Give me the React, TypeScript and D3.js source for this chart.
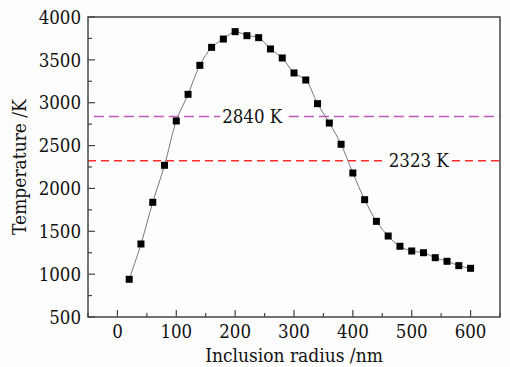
import { useEffect, useRef } from 'react'
import * as d3 from 'd3'

const radius = [20, 40, 60, 80, 100, 120, 140, 160, 180, 200, 220, 240, 260, 280, 300,
  320, 340, 360, 380, 400, 420, 440, 460, 480, 500, 520, 540, 560, 580, 600]
const temperature = [940, 1352, 1838, 2270, 2787, 3098, 3436, 3646, 3743, 3829, 3782, 3759, 3627, 3522, 3347,
  3265, 2989, 2763, 2515, 2180, 1869, 1616, 1445, 1325, 1270, 1250, 1192, 1150, 1099, 1068]
const xTicks = [0, 100, 200, 300, 400, 500, 600]
const yTicks = [500, 1000, 1500, 2000, 2500, 3000, 3500, 4000]
const refLines = [
  { value: 2840, label: '2840 K', color: '#bf58bb', dash: '10,5', labelX: 229, x0: -40 },
  { value: 2323, label: '2323 K', color: '#ff2a2a', dash: '8,5', labelX: 512, x0: -50 },
]

const FONT = 'DejaVu Serif'

export default function App() {
  const ref = useRef<SVGSVGElement>(null)

  useEffect(() => {
    const svg = d3.select(ref.current!)
    svg.selectAll('*').remove()
    const W = 510, H = 367
    const m = { l: 88, t: 17, r: 10, b: 50 }
    const iW = W - m.l - m.r, iH = H - m.t - m.b
    const x = d3.scaleLinear().domain([-50, 650]).range([0, iW])
    const y = d3.scaleLinear().domain([500, 4000]).range([iH, 0])
    const g = svg.append('g').attr('transform', `translate(${m.l},${m.t})`)
      .attr('font-family', FONT).attr('font-stretch', 'condensed')

    // minor ticks (inside)
    const xMinor = d3.range(-50, 651, 50).filter(v => v % 100 !== 0)
    const yMinor = d3.range(750, 4000, 500)
    g.selectAll('.xmin').data(xMinor).join('line')
      .attr('x1', d => x(d)).attr('x2', d => x(d)).attr('y1', iH).attr('y2', iH - 4)
      .attr('stroke', '#444').attr('stroke-width', 1.2)
    g.selectAll('.xmaj').data(xTicks).join('line')
      .attr('x1', d => x(d)).attr('x2', d => x(d)).attr('y1', iH).attr('y2', iH - 7)
      .attr('stroke', '#444').attr('stroke-width', 1.2)
    g.selectAll('.ymin').data(yMinor).join('line')
      .attr('x1', 0).attr('x2', 4).attr('y1', d => y(d)).attr('y2', d => y(d))
      .attr('stroke', '#444').attr('stroke-width', 1.2)
    g.selectAll('.ymaj').data(yTicks).join('line')
      .attr('x1', 0).attr('x2', 7).attr('y1', d => y(d)).attr('y2', d => y(d))
      .attr('stroke', '#444').attr('stroke-width', 1.2)

    // tick labels
    g.selectAll('.xl').data(xTicks).join('text')
      .attr('x', d => x(d)).attr('y', iH + 21).attr('text-anchor', 'middle')
      .attr('font-size', 18.5).attr('fill', '#111').text(d => d)
    g.selectAll('.yl').data(yTicks).join('text')
      .attr('x', -7).attr('y', d => y(d)).attr('dy', '0.36em').attr('text-anchor', 'end')
      .attr('font-size', 18.5).attr('fill', '#111').text(d => d)

    // reference lines
    refLines.forEach(r => {
      g.append('line').attr('x1', x(r.x0)).attr('x2', iW).attr('y1', y(r.value)).attr('y2', y(r.value))
        .attr('stroke', r.color).attr('stroke-width', 1.5).attr('stroke-dasharray', r.dash)
      const t = g.append('text').attr('x', x(r.labelX)).attr('y', y(r.value)).attr('dy', '0.36em')
        .attr('text-anchor', 'middle').attr('font-size', 18.5)
        .attr('fill', '#111').text(r.label)
      const bb = (t.node() as SVGTextElement).getBBox()
      g.insert('rect', () => t.node()).attr('x', bb.x - 2).attr('y', bb.y + 3).attr('width', bb.width + 4)
        .attr('height', bb.height - 6).attr('fill', '#fff')
    })

    // data line + markers
    const pts = radius.map((r, i) => [r, temperature[i]] as [number, number])
    g.append('path').datum(pts).attr('fill', 'none').attr('stroke', '#777').attr('stroke-width', 1)
      .attr('d', d3.line().x(d => x(d[0])).y(d => y(d[1])).curve(d3.curveCatmullRom))
    g.selectAll('.pt').data(pts).join('rect')
      .attr('x', d => x(d[0]) - 3.5).attr('y', d => y(d[1]) - 3.5).attr('width', 7).attr('height', 7)
      .attr('fill', '#000')

    // frame
    g.append('rect').attr('x', 0).attr('y', 0).attr('width', iW).attr('height', iH)
      .attr('fill', 'none').attr('stroke', '#444').attr('stroke-width', 1.5)

    // axis titles
    g.append('text').attr('x', iW / 2).attr('y', iH + 45).attr('text-anchor', 'middle')
      .attr('font-size', 19).attr('fill', '#111').text('Inclusion radius /nm')
    g.append('text').attr('transform', `translate(${-62},${iH / 2}) rotate(-90)`).attr('text-anchor', 'middle')
      .attr('font-size', 19).attr('fill', '#111').text('Temperature /K')
  }, [])

  return (
    <div style={{ position: 'absolute', left: 0, top: 0, width: 510, height: 367, background: '#fdfdfd' }}>
      <svg ref={ref} width={510} height={367} style={{ display: 'block' }} />
    </div>
  )
}
